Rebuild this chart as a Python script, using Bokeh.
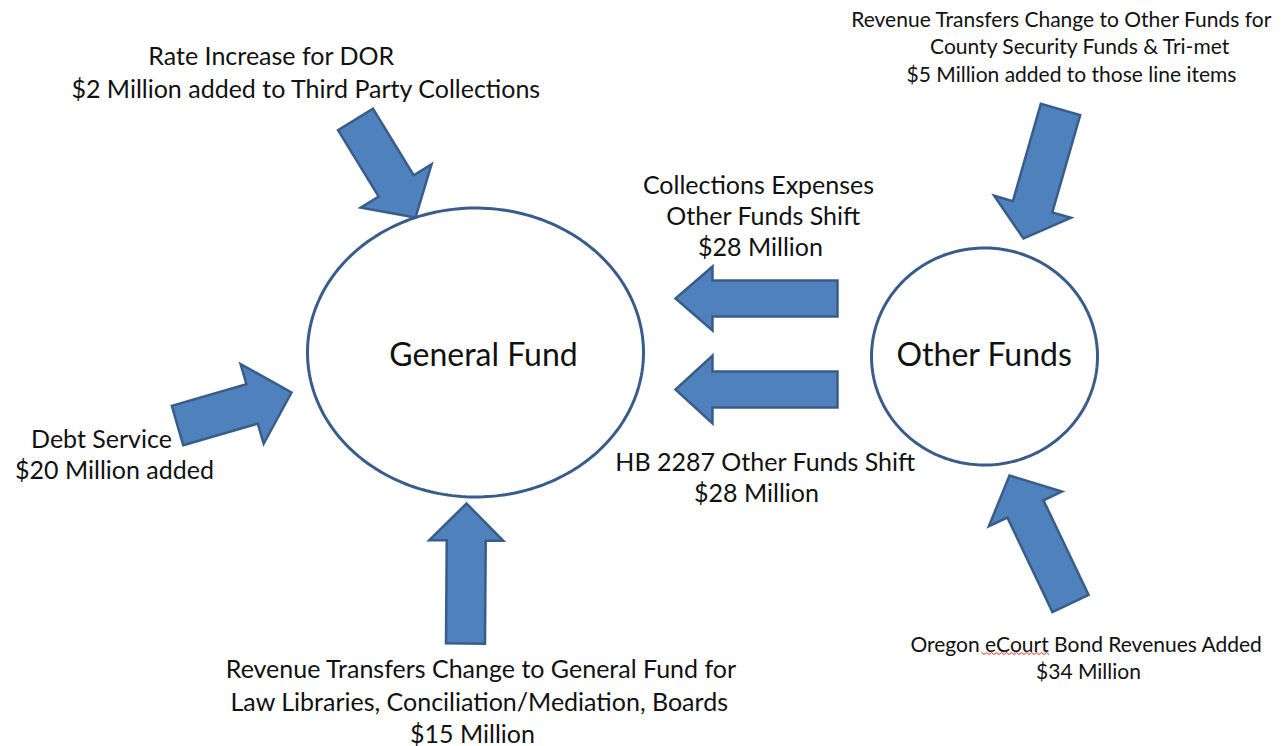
import numpy as np
from bokeh.plotting import figure
from bokeh.models import Range1d
from bokeh.core.properties import value
from bokeh.embed import file_html
from bokeh.resources import INLINE

FONT = "Lato"
FILL = "#4F81BD"
EDGE = "#385D8A"
TEXT = "#111111"

# ---- nodes (ellipses): name, centre x, centre y, width, height, label font size
node_names = ["General Fund", "Other Funds"]
node_cx = [475, 984]
node_cy = [352, 356]
node_w = [336, 226]
node_h = [289, 217]
node_font = ["32px", "32px"]
node_label_x = [483, 984]
node_label_y = [353, 353]

# ---- block arrows: tail centre, tip, shaft width, head width, head length
arrow_names = ["Rate Increase", "Collections", "HB 2287", "Rev Other", "eCourt", "Debt", "Rev General"]
arrow_tail_x = [355, 837, 837, 1060, 1070, 177, 465]
arrow_tail_y = [119, 298, 389, 109, 603, 425, 643]
arrow_tip_x = [415, 675, 675, 1023, 1009, 291, 466]
arrow_tip_y = [217, 298, 389, 238, 475, 392, 503]
arrow_shaft_w = [41, 36, 36, 41, 40, 41, 39]
arrow_head_w = [83, 64, 68, 80, 81, 83, 74]
arrow_head_l = [37, 37, 37, 33, 37, 41, 37]

# ---- labels: text, x, y, size
label_text = [
    "Rate Increase for DOR",
    "$2 Million added to Third Party Collections",
    "Revenue Transfers  Change to Other Funds for",
    "County Security Funds & Tri-met",
    "$5 Million added to those line items",
    "Collections Expenses",
    "Other Funds Shift",
    "$28 Million",
    "HB 2287 Other Funds Shift",
    "$28 Million",
    "Debt Service",
    "$20 Million added",
    "Revenue Transfers  Change to General Fund for",
    "Law Libraries, Conciliation/Mediation, Boards",
    "$15 Million",
    "Oregon eCourt Bond Revenues Added",
    "$34 Million",
]
label_x = [271, 306, 1064, 1080, 1071, 758, 763, 760, 765, 756, 101, 114, 484, 479, 472, 1086, 1088]
label_y = [54, 87, 18, 45, 73, 183, 214, 245, 460, 491, 437, 468, 667, 700, 732, 643, 670]
label_size = ["25px", "25px", "21px", "21px", "21px", "25px", "25px", "25px", "25px", "25px",
              "25px", "25px", "25px", "25px", "25px", "21px", "21px"]

W, H = 1282, 746
p = figure(width=W, height=H, output_backend="svg", toolbar_location=None,
           x_range=Range1d(0, W), y_range=Range1d(H, 0),
           min_border=0, min_border_left=0, min_border_right=0,
           min_border_top=0, min_border_bottom=0)
p.axis.visible = False
p.grid.visible = False
p.outline_line_color = None
p.background_fill_color = "white"
p.border_fill_color = "white"

# ellipses
t = np.linspace(0, 2 * np.pi, 240)
for cx, cy, w, h in zip(node_cx, node_cy, node_w, node_h):
    p.patch(cx + w / 2 * np.cos(t), cy + h / 2 * np.sin(t),
            fill_color="white", line_color=EDGE, line_width=3)

# arrows
def arrow_poly(tx, ty, hx, hy, sw, hw, hl):
    d = np.array([hx - tx, hy - ty], dtype=float)
    L = np.hypot(*d)
    u = d / L
    n = np.array([-u[1], u[0]])
    tail = np.array([tx, ty], dtype=float)
    tip = np.array([hx, hy], dtype=float)
    base = tip - u * hl
    pts = [tail + n * sw / 2, base + n * sw / 2, base + n * hw / 2, tip,
           base - n * hw / 2, base - n * sw / 2, tail - n * sw / 2]
    pts = np.array(pts)
    return pts[:, 0], pts[:, 1]

xs, ys = [], []
for a in zip(arrow_tail_x, arrow_tail_y, arrow_tip_x, arrow_tip_y,
             arrow_shaft_w, arrow_head_w, arrow_head_l):
    x, y = arrow_poly(*a)
    xs.append(list(x))
    ys.append(list(y))
p.patches(xs, ys, fill_color=FILL, line_color=EDGE, line_width=2.5, line_join="miter")

# node labels
p.text(node_label_x, node_label_y, text=node_names, text_font=value(FONT), text_font_size=node_font,
       text_align="center", text_baseline="middle", text_color=TEXT)

# labels
for s in sorted(set(label_size)):
    idx = [i for i, v in enumerate(label_size) if v == s]
    p.text([label_x[i] for i in idx], [label_y[i] for i in idx],
           text=[label_text[i] for i in idx], text_font=value(FONT), text_font_size=s,
           text_align="center", text_baseline="middle", text_color=TEXT)

# spell-check squiggle under "eCourt"
sq_x = np.arange(981, 1050, 2.5)
sq_y = 653 + np.where(np.arange(len(sq_x)) % 2 == 0, -1.0, 1.0)
p.line(sq_x, sq_y, line_color="#E03030", line_width=1)

open("out.html", "w").write(file_html(p, INLINE))
